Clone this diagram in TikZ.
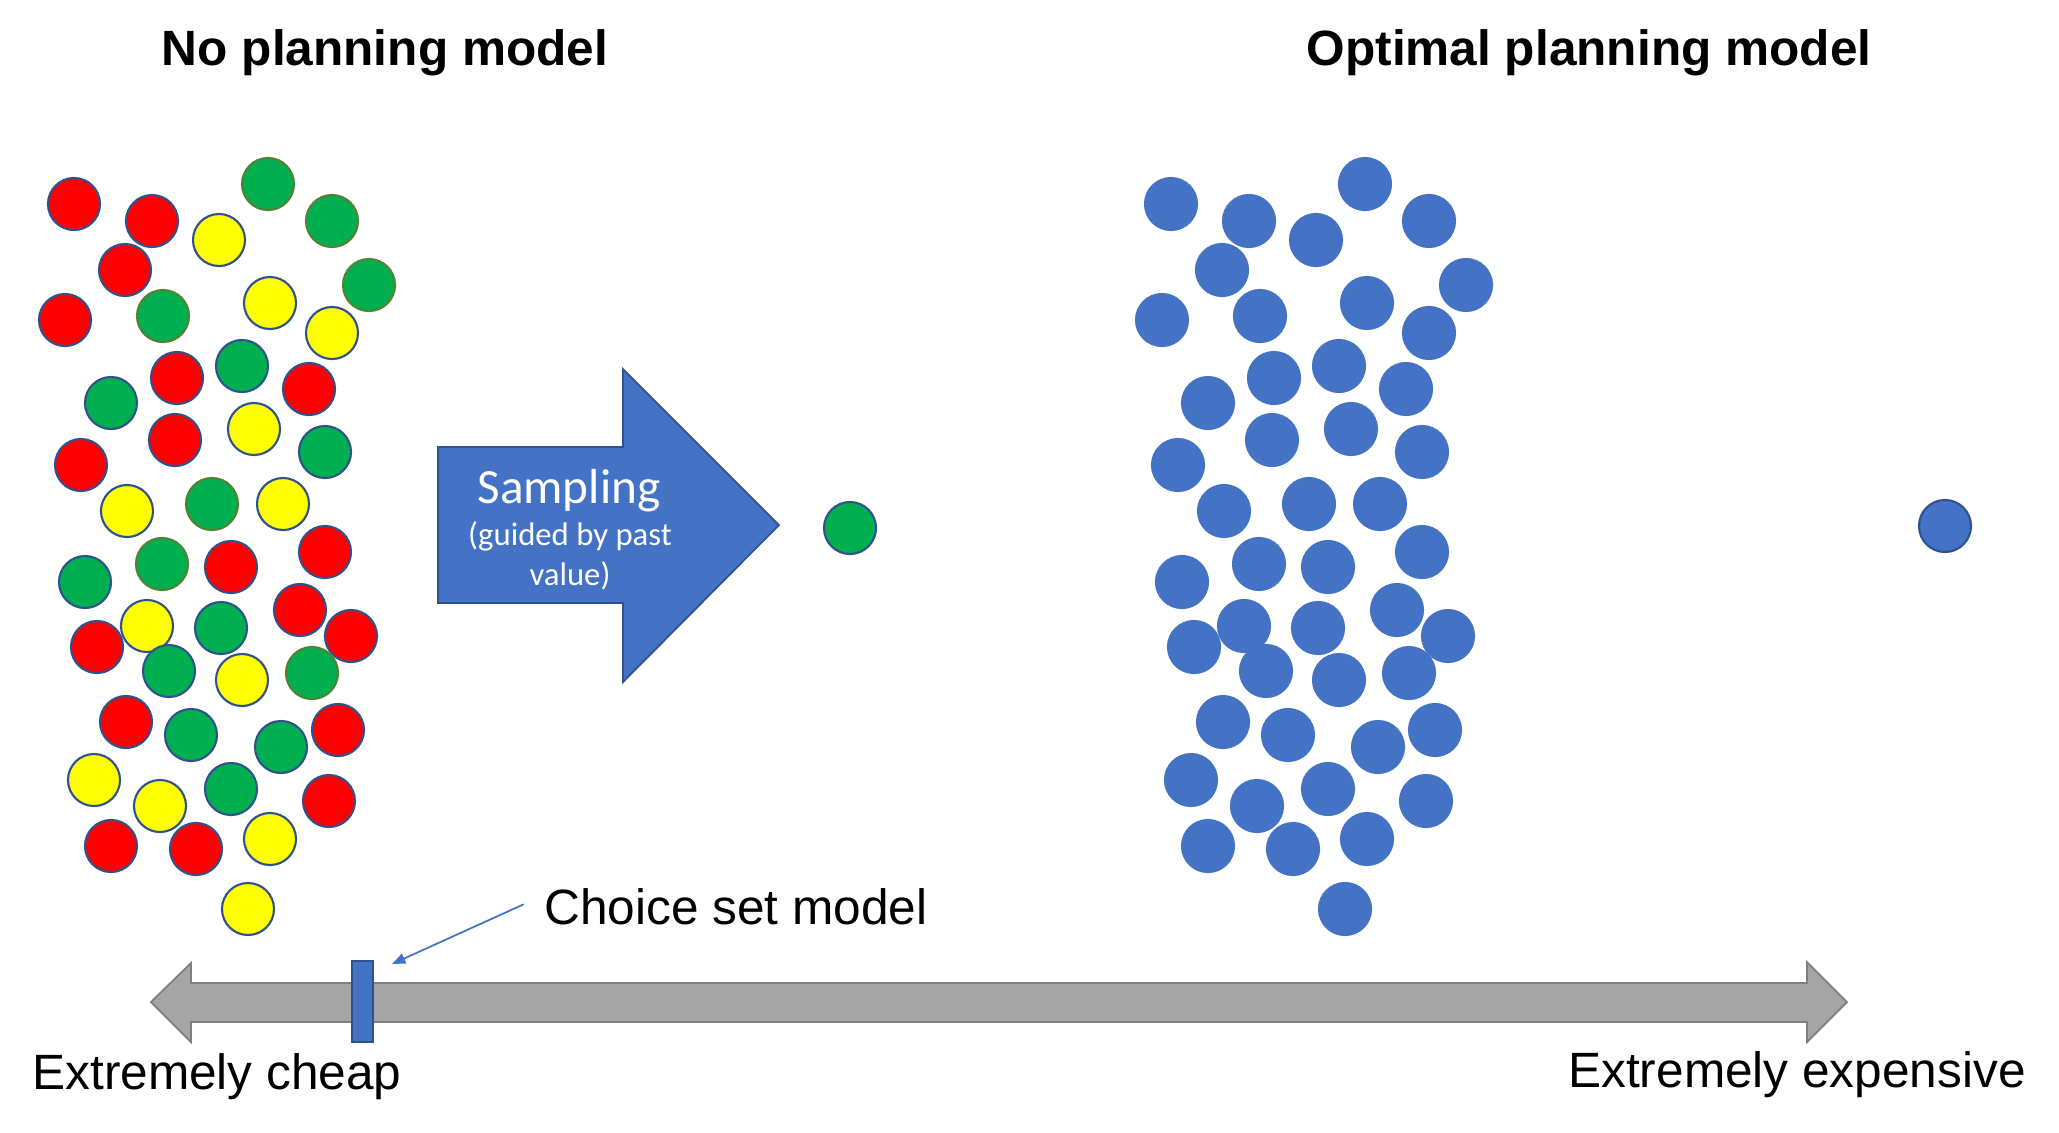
\documentclass[tikz,border=0pt]{standalone}
\usepackage{fontspec}
\setmainfont{Liberation Sans}
\newfontfamily\calibrifont{Carlito}
\usepackage{tikz}
\usetikzlibrary{arrows.meta, positioning}
\definecolor{ballred}{RGB}{255, 0, 0}
\definecolor{ballyellow}{RGB}{255, 255, 0}
\definecolor{ballgreen}{RGB}{0, 176, 80}
\definecolor{ballblue}{RGB}{68, 114, 196}
\definecolor{rimblue}{RGB}{47, 82, 143}
\definecolor{rimolive}{RGB}{84, 130, 53}
\definecolor{axisgray}{RGB}{165, 165, 165}
\definecolor{rimgray}{RGB}{127, 127, 127}

\newcommand{\ballpositions}{74/204/redball, 152/221/redball, 268/184/oliveball, 219/240/yellowball, 332/221/oliveball,
  125/270/redball, 369/285/oliveball, 65/320/redball, 163/316/oliveball, 270/303/yellowball,
  332/333/yellowball, 242/366/greenball, 177/378/redball, 309/389/redball, 111/403/greenball,
  175/440/redball, 254/429/yellowball, 325/452/greenball, 81/465/redball, 127/511/yellowball,
  212/504/oliveball, 283/504/yellowball, 325/552/redball, 85/582/greenball, 162/564/oliveball,
  231/567/redball, 300/610/redball, 351/636/redball, 147/626/yellowball, 221/628/greenball,
  97/647/redball, 169/671/greenball, 242/680/yellowball, 312/673/oliveball, 126/722/redball,
  191/735/greenball, 281/747/greenball, 338/730/redball, 94/780/yellowball, 160/806/yellowball,
  231/789/greenball, 329/801/redball, 111/846/redball, 196/849/redball, 270/839/yellowball,
  248/909/yellowball}

\tikzset{
  ball/.style={circle, minimum size=0.52cm, inner sep=0pt, line width=0.6pt},
  redball/.style={fill=ballred, draw=rimblue},
  yellowball/.style={fill=ballyellow, draw=rimblue},
  greenball/.style={fill=ballgreen, draw=rimblue},
  oliveball/.style={fill=ballgreen, draw=rimolive},
  blueball/.style={fill=ballblue, draw=ballblue},
  label/.style={font=\fontsize{14.1}{17}\selectfont, anchor=base, inner sep=0pt},
  title/.style={label, font=\fontsize{14.1}{17}\selectfont\bfseries}
}

\begin{document}
\begin{tikzpicture}[x=0.01cm, y=-0.01cm]
        \useasboundingbox (0,0) rectangle (2059,1132);

        % Titles
        \node[title] (notitle) at (385,65) {No planning model};
        \node[title] (opttitle) at (1589,65) {Optimal planning model};

        % Balls of both models
        \foreach \bx/\by/\bkind [count=\i] in \ballpositions
            \node[ball, \bkind] (l\i) at (\bx,\by) {};
        \foreach \bx/\by/\bkind [count=\i] in \ballpositions
            \node[ball, blueball] (r\i) at (\bx+1097,\by) {};

        % Sampling arrow
        \draw[fill=ballblue, draw=rimblue, line width=0.5pt]
            (438,447) -- (623,447) -- (623,369) -- (779,525) -- (623,682) -- (623,603) -- (438,603) -- cycle;
        \node[anchor=base, inner sep=0pt, text=white, font=\calibrifont\fontsize{14}{16}\selectfont] (sampling) at (569,503) {Sampling};
        \node[anchor=base, inner sep=0pt, text=white, font=\calibrifont\fontsize{9.3}{11.4}\selectfont] (guided) at (570,545) {(guided by past};
        \node[anchor=base, inner sep=0pt, text=white, font=\calibrifont\fontsize{9.3}{11.4}\selectfont] (value) at (570,585) {value)};

        % Picked balls
        \node[ball, greenball] (pickgreen) at (850,528) {};
        \node[ball, fill=ballblue, draw=rimblue] (pickblue) at (1945,526) {};

        % Cost axis
        \draw[fill=axisgray, draw=rimgray, line width=0.5pt]
            (151,1002) -- (191,963) -- (191,983) -- (1807,983) -- (1807,962) -- (1847,1002)
            -- (1807,1042) -- (1807,1022) -- (191,1022) -- (191,1042) -- cycle;
        \node[rectangle, fill=ballblue, draw=rimblue, line width=0.6pt, minimum width=0.21cm, minimum height=0.81cm, inner sep=0pt] (marker) at (362.5,1001.5) {};

        % Labels
        \node[label] (choice) at (736,924) {Choice set model};
        \coordinate (choicetip) at (392,964);
        \draw[ballblue, line width=0.5pt, -{Triangle[length=3.8pt, width=3pt]}] ([xshift=-0.2cm, yshift=0.02cm]choice.west) -- (choicetip);
        \node[label] (cheap) at (217,1089) {Extremely cheap};
        \node[label] (expensive) at (1797,1087) {Extremely expensive};
    \end{tikzpicture}
\end{document}
